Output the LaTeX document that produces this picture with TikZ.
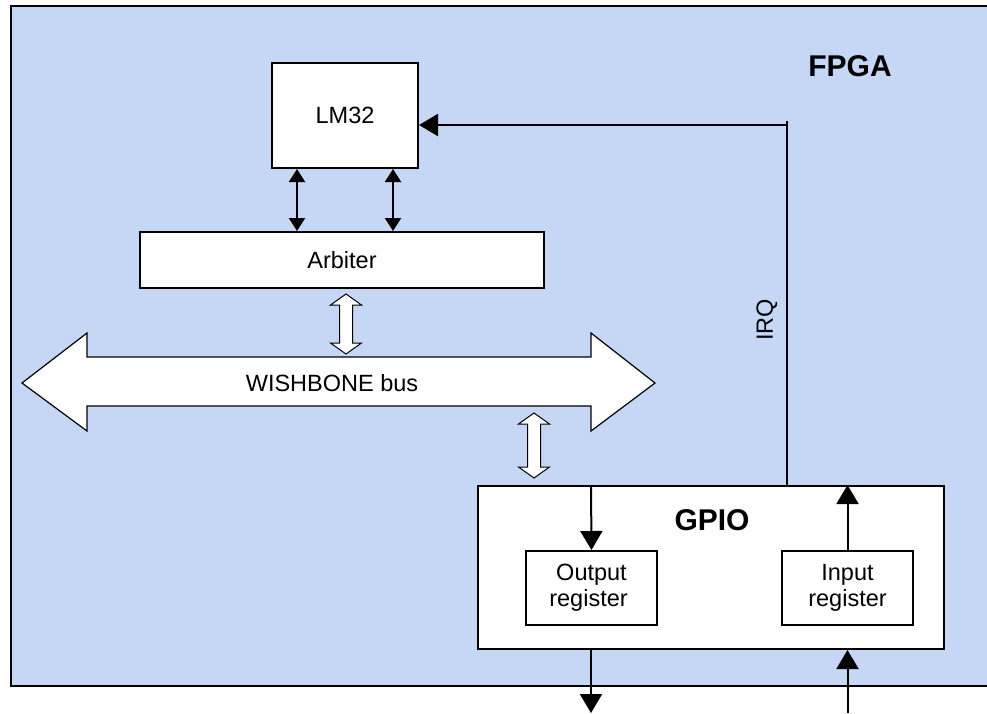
\documentclass[tikz,border=0pt]{standalone}
\usepackage{fontspec}
\setmainfont{Liberation Sans}
\usetikzlibrary{arrows.meta}
\definecolor{fpgablue}{RGB}{198,214,245}
\tikzset{
  box/.style={draw=black, line width=2pt, fill=white, rectangle, inner sep=0pt, align=center, font=\fontsize{23.5}{27}\selectfont},
  lbl/.style={font=\fontsize{23.5}{27}\selectfont, inner sep=0pt},
  biglbl/.style={font=\fontsize{30}{34}\selectfont\bfseries, inner sep=0pt},
  conn/.style={line width=2pt, -{Triangle[width=22pt,length=19pt]}},
  smallconn/.style={line width=2pt, {Triangle[width=16pt,length=13pt]}-{Triangle[width=16pt,length=13pt]}},
  hollow/.style={draw=black, line width=1pt, fill=white, line join=miter},
}
\newcommand{\myHollowArrow}[3]{%
  \path[hollow] (#1,#2) -- (#1+15.5,#2+11) -- (#1+6.5,#2+11) -- (#1+6.5,#3-11) -- (#1+15.5,#3-11) -- (#1,#3) -- (#1-15.5,#3-11) -- (#1-6.5,#3-11) -- (#1-6.5,#2+11) -- (#1-15.5,#2+11) -- cycle;}
\begin{document}
\begin{tikzpicture}[x=1pt,y=-1pt]
\useasboundingbox (0,0) rectangle (987,713);
% FPGA area
\path[fill=fpgablue, draw=black, line width=2pt] (11,6) rectangle (1000,686);
\node[biglbl] (fpga) at (850,66) {FPGA};

% blocks
\node[box, minimum width=146pt, minimum height=105pt] (lm32) at (345,115.5) {LM32};
\node[box, minimum width=404pt, minimum height=56pt] (arb) at (342,260) {Arbiter};
\node[box, minimum width=466pt, minimum height=163pt] (gpio) at (711,567.5) {};
\node[biglbl] (gpiolbl) at (712,520) {GPIO};
\node[box, minimum width=131pt, minimum height=74pt] (outreg) at (591.5,588) {Output\\[-1pt]\hspace*{-6pt}register};
\node[box, minimum width=131pt, minimum height=74pt] (inreg) at (847.5,588) {Input\\[-1pt]register};

% LM32 <-> Arbiter
\draw[smallconn] ([xshift=26pt]lm32.south west) -- ([xshift=26pt]lm32.south west |- arb.north);
\draw[smallconn] ([xshift=-26pt]lm32.south east) -- ([xshift=-26pt]lm32.south east |- arb.north);

% WISHBONE bus
\path[hollow, line width=1.2pt] (22,383) -- (87,333) -- (87,357) -- (591,357) -- (591,333) -- (655,383) -- (591,431) -- (591,406) -- (87,406) -- (87,431) -- cycle;
\node[lbl] (bus) at (332,383) {WISHBONE bus};

% hollow connectors
\myHollowArrow{346}{294}{354}
\myHollowArrow{534}{413}{478}

% IRQ
\draw[line width=2pt] (787,0 |- gpio.north) -- (787,121);
\draw[conn] (787,125) -- (lm32.east |- 0,125);
\node[lbl, rotate=90] (irq) at (767,320) {IRQ};

% GPIO internal
\draw[conn] (591,0 |- gpio.north) -- (outreg.north);
\draw[conn] (inreg.north) -- (inreg.north |- gpio.north);
\coordinate (outend) at (591,713);
\coordinate (instart) at (847.5,713);
\draw[conn] (591,0 |- gpio.south) -- (outend);
\draw[conn] (instart) -- (inreg.north |- gpio.south);
\end{tikzpicture}
\end{document}
